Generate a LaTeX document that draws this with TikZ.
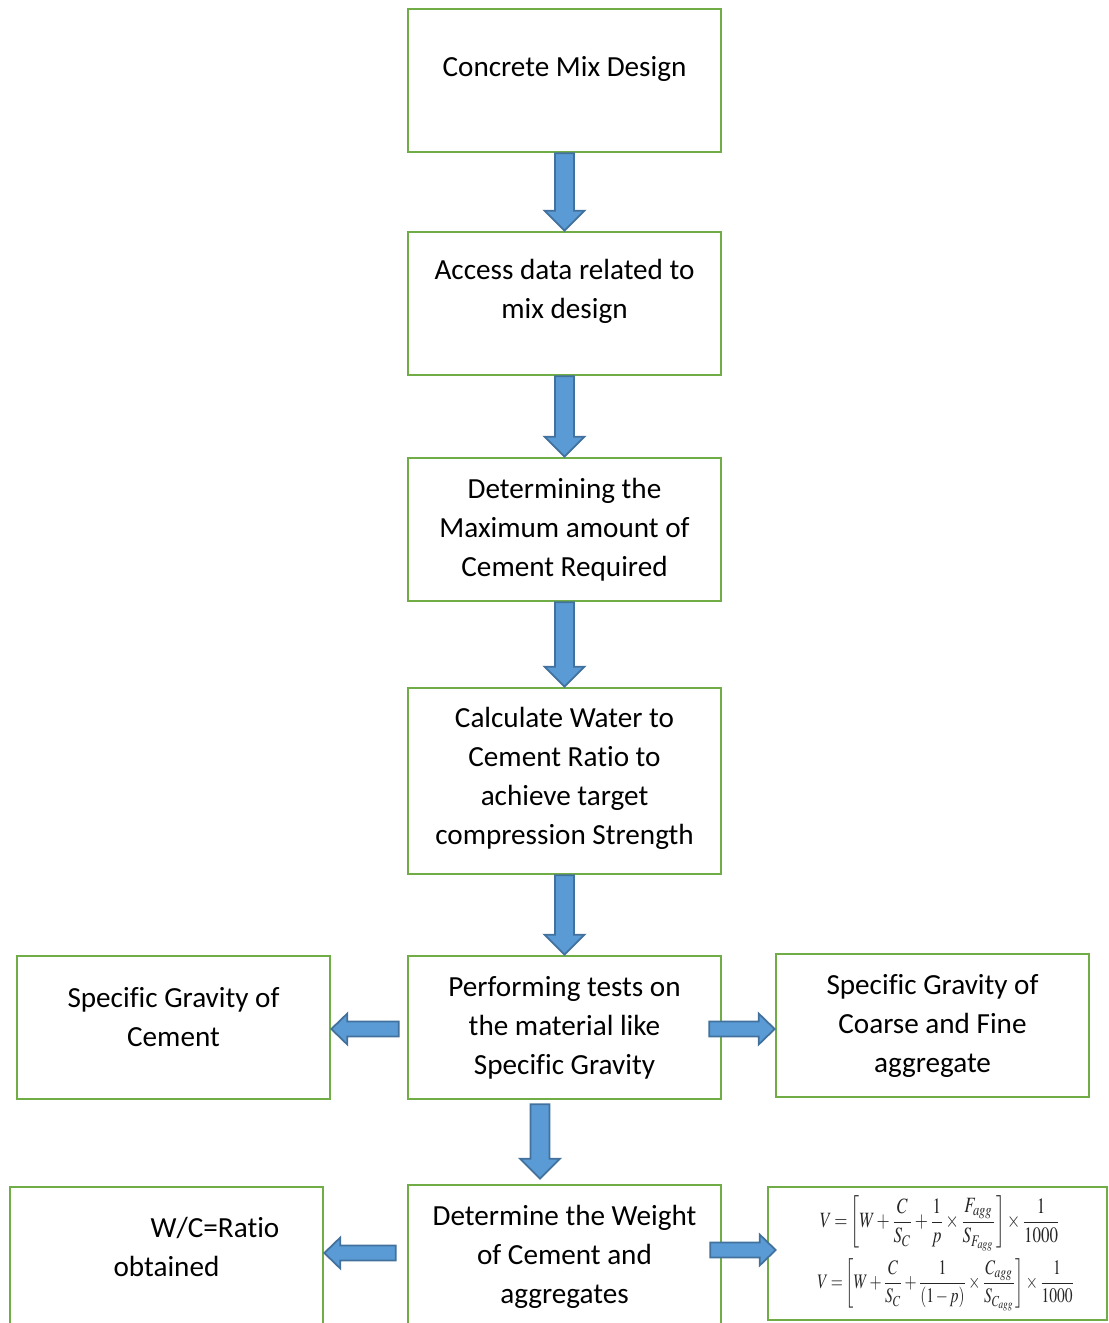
\documentclass[tikz,border=0pt]{standalone}
\usepackage{amsmath}
\usepackage{mathptmx}
\usepackage{graphicx}
\usepackage{fontspec}
\setmainfont[Ligatures=NoCommon]{Carlito}
\usepackage{xcolor}
\definecolor{box-green}{HTML}{70AD47}
\definecolor{arrow-blue}{HTML}{5B9BD5}
\definecolor{arrow-edge}{HTML}{41719C}
\definecolor{formula-ink}{HTML}{262626}
\usetikzlibrary{calc}
\tikzset{
  arrow shaft/.store in=\blkshaft,
  arrow head width/.store in=\blkheadw,
  arrow head length/.store in=\blkheadl,
  arrow shaft=0.19cm, arrow head width=0.4cm, arrow head length=0.4cm,
  blockarrow/.style={draw=arrow-edge, fill=arrow-blue, line width=1pt, line join=miter,
    to path={($(\tikztostart)!\blkshaft!90:(\tikztotarget)$)
      -- ($($(\tikztotarget)!\blkheadl!(\tikztostart)$)!\blkshaft!90:(\tikztotarget)$)
      -- ($($(\tikztotarget)!\blkheadl!(\tikztostart)$)!\blkheadw!90:(\tikztotarget)$)
      -- (\tikztotarget)
      -- ($($(\tikztotarget)!\blkheadl!(\tikztostart)$)!\blkheadw!-90:(\tikztotarget)$)
      -- ($($(\tikztotarget)!\blkheadl!(\tikztostart)$)!\blkshaft!-90:(\tikztotarget)$)
      -- ($(\tikztostart)!\blkshaft!-90:(\tikztotarget)$) -- cycle}},
  side arrow/.style={blockarrow, arrow shaft=0.15cm, arrow head width=0.31cm, arrow head length=0.32cm}
}
\newcommand{\tightmath}{\medmuskip=2mu plus 1mu\thickmuskip=3mu plus 1mu\thinmuskip=1mu}

\begin{document}
\begin{tikzpicture}[every node/.style={font=\fontsize{16.6pt}{22.2pt}\selectfont},
    flowbox/.style={draw=box-green, line width=1.5pt, fill=white, minimum width=6.26cm,
      minimum height=2.86cm, align=center, inner sep=0pt}]
  \useasboundingbox (0,0) rectangle (22.18,-26.46);
  \node[flowbox, text depth=0.57cm] (mix) at (11.29,-1.61) {Concrete Mix Design};
  \node[flowbox, text depth=0.6cm] (access) at (11.29,-6.07) {Access data related to\\mix design};
  \node[flowbox] (maxcem) at (11.29,-10.59) {Determining the\\Maximum amount of\\Cement Required};
  \node[flowbox, minimum height=3.72cm, text depth=0.2cm] (wcratio) at (11.29,-15.62) {Calculate Water to\\Cement Ratio to\\achieve target\\compression Strength};
  \node[flowbox] (perf) at (11.29,-20.55) {Performing tests on\\the material like\\Specific Gravity};
  \node[flowbox, text depth=0.44cm] (cement) at (3.47,-20.55) {Specific Gravity of\\Cement};
  \node[flowbox] (coarse) at (18.65,-20.51) {Specific Gravity of\\Coarse and Fine\\aggregate};
  \node[flowbox] (weight) at (11.29,-25.13) {Determine the Weight\\of Cement and\\aggregates};
  \node[flowbox, text depth=0.46cm] (obtained) at (3.33,-25.17) {\hspace*{1.94cm}W/C=Ratio\\obtained};
  \node[flowbox, minimum width=6.78cm, minimum height=2.66cm, text=formula-ink,
    font=\tightmath] (formula) at (18.75,-25.07)
    {\hspace*{0.1cm}\resizebox*{4.8cm}{1.1cm}{$\displaystyle V=\left[W+\frac{C}{S_C}+\frac{1}{p}\times\frac{F_{agg}}{S_{F_{agg}}}\right]\times\frac{1}{1000}$}\\[0.12cm]
     \hspace*{0.34cm}\resizebox*{5.14cm}{1.04cm}{$\displaystyle V=\left[W+\frac{C}{S_C}+\frac{1}{(1-p)}\times\frac{C_{agg}}{S_{C_{agg}}}\right]\times\frac{1}{1000}$}};

  \coordinate (down) at ($(perf.south)+(-0.49,-0.08)$);
  \coordinate (downend) at ($(weight.north)+(-0.49,0.1)$);
  \coordinate (pl) at ($(perf.west)+(-0.16,-0.03)$);
  \coordinate (pr) at ($(perf.east)+(-0.26,-0.03)$);
  \coordinate (wl) at ($(weight.west)+(-0.22,0.07)$);
  \coordinate (wr) at ($(weight.east)+(-0.24,0.13)$);
  \coordinate (wrend) at ($(formula.west |- wr)+(0.18,0)$);

  \draw[blockarrow] (mix.south) to (access.north);
  \draw[blockarrow] (access.south) to (maxcem.north);
  \draw[blockarrow] (maxcem.south) to (wcratio.north);
  \draw[blockarrow] (wcratio.south) to (perf.north);
  \draw[blockarrow] (down) to (downend);
  \draw[side arrow] (pl) to (cement.east |- pl);
  \draw[side arrow] (pr) to (coarse.west |- pr);
  \draw[side arrow] (wl) to (obtained.east |- wl);
  \draw[side arrow] (wr) to (wrend);
\end{tikzpicture}
\end{document}
